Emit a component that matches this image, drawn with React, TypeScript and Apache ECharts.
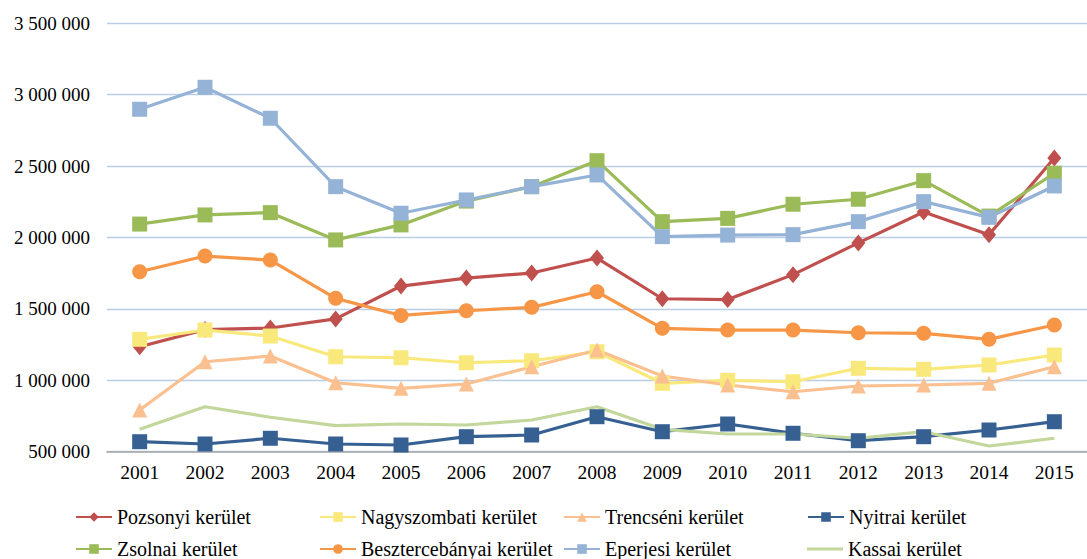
import React, { useEffect, useRef } from "react";
import * as echarts from "echarts";

const years = ["2001","2002","2003","2004","2005","2006","2007","2008","2009","2010","2011","2012","2013","2014","2015"];

const pozsonyi = [1235000,1355000,1366000,1430000,1660000,1716000,1751000,1856000,1571000,1565000,1740000,1962000,2179000,2020000,2557000];
const nagyszombati = [1287000,1352000,1310000,1165000,1158000,1123000,1137000,1200000,979000,1000000,990000,1084000,1077000,1107000,1177000];
const trencseni = [792000,1130000,1170000,983000,944000,974000,1095000,1212000,1030000,967000,920000,960000,967000,979000,1095000];
const nyitrai = [570000,554000,594000,554000,547000,605000,617000,745000,640000,694000,629000,577000,605000,652000,710000];
const zsolnai = [2094000,2158000,2174000,1983000,2088000,2255000,2356000,2538000,2111000,2134000,2233000,2268000,2398000,2150000,2450000];
const besztercebanyai = [1760000,1870000,1842000,1574000,1454000,1487000,1511000,1620000,1364000,1352000,1352000,1333000,1329000,1287000,1387000];
const eperjesi = [2898000,3052000,2835000,2356000,2170000,2263000,2356000,2438000,2006000,2017000,2020000,2111000,2251000,2141000,2361000];
const kassai = [657000,815000,741000,682000,694000,687000,722000,815000,657000,624000,624000,594000,640000,540000,594000];

const seriesNames = [
  "Pozsonyi kerület",
  "Nagyszombati kerület",
  "Trencséni kerület",
  "Nyitrai kerület",
  "Zsolnai kerület",
  "Besztercebányai kerület",
  "Eperjesi kerület",
  "Kassai kerület",
];
const seriesData = [pozsonyi, nagyszombati, trencseni, nyitrai, zsolnai, besztercebanyai, eperjesi, kassai];
const seriesColors = ["#C0504D", "#F9E97C", "#FAC090", "#366092", "#9BBB59", "#F79646", "#95B3D7", "#C3D69B"];
const seriesSymbols = ["diamond", "rect", "triangle", "rect", "rect", "circle", "rect", "none"];

const FONT = "Liberation Serif";

function fmt(v: number): string {
  return String(Math.round(v)).replace(/\B(?=(\d{3})+(?!\d))/g, " ");
}

export default function App() {
  const ref = useRef<HTMLDivElement>(null);
  useEffect(() => {
    document.body.style.margin = "0";
    if (!ref.current) return;
    const chart = echarts.init(ref.current, null, { renderer: "svg" });
    const legendCols = [75, 319, 563, 807];
    const legendRows = [507, 539];
    const legends = seriesNames.map((name, i) => {
      const noMarker = seriesSymbols[i] === "none";
      return {
        show: true,
        data: noMarker
          ? [{ name, icon: "rect", itemStyle: { color: seriesColors[i] } }]
          : [name],
        left: legendCols[i % 4],
        top: legendRows[Math.floor(i / 4)],
        itemWidth: 36,
        itemHeight: noMarker ? 3 : 12,
        padding: 0,
        textStyle: { fontFamily: FONT, fontSize: 20, color: "#000" },
      };
    });
    chart.setOption({
      animation: false,
      backgroundColor: "#fff",
      textStyle: { fontFamily: FONT },
      legend: legends,
      grid: { left: 107, top: 23.3, width: 994.5, height: 428.4, containLabel: false },
      xAxis: {
        type: "category",
        data: years,
        boundaryGap: true,
        axisLine: { show: true, lineStyle: { color: "#A6A6A6", width: 1.5 } },
        axisTick: { show: false },
        axisLabel: { fontFamily: FONT, fontSize: 19.5, color: "#000", margin: 11 },
      },
      yAxis: {
        type: "value",
        min: 500000,
        max: 3500000,
        interval: 500000,
        axisLine: { show: false },
        axisTick: { show: false },
        splitLine: { lineStyle: { color: "#B9CDE5", width: 1.3 } },
        axisLabel: { fontFamily: FONT, fontSize: 19, color: "#000", margin: 17, formatter: (v: number) => fmt(v) },
      },
      series: seriesNames.map((name, i) => ({
        name,
        type: "line",
        data: seriesData[i],
        symbol: seriesSymbols[i],
        symbolSize: seriesSymbols[i] === "diamond" ? [14, 17] : 15,
        showSymbol: seriesSymbols[i] !== "none",
        lineStyle: { color: seriesColors[i], width: 3.2 },
        itemStyle: { color: seriesColors[i] },
        emphasis: { disabled: true },
      })),
    });
    return () => chart.dispose();
  }, []);
  return <div ref={ref} style={{ width: 1087, height: 559 }} />;
}
